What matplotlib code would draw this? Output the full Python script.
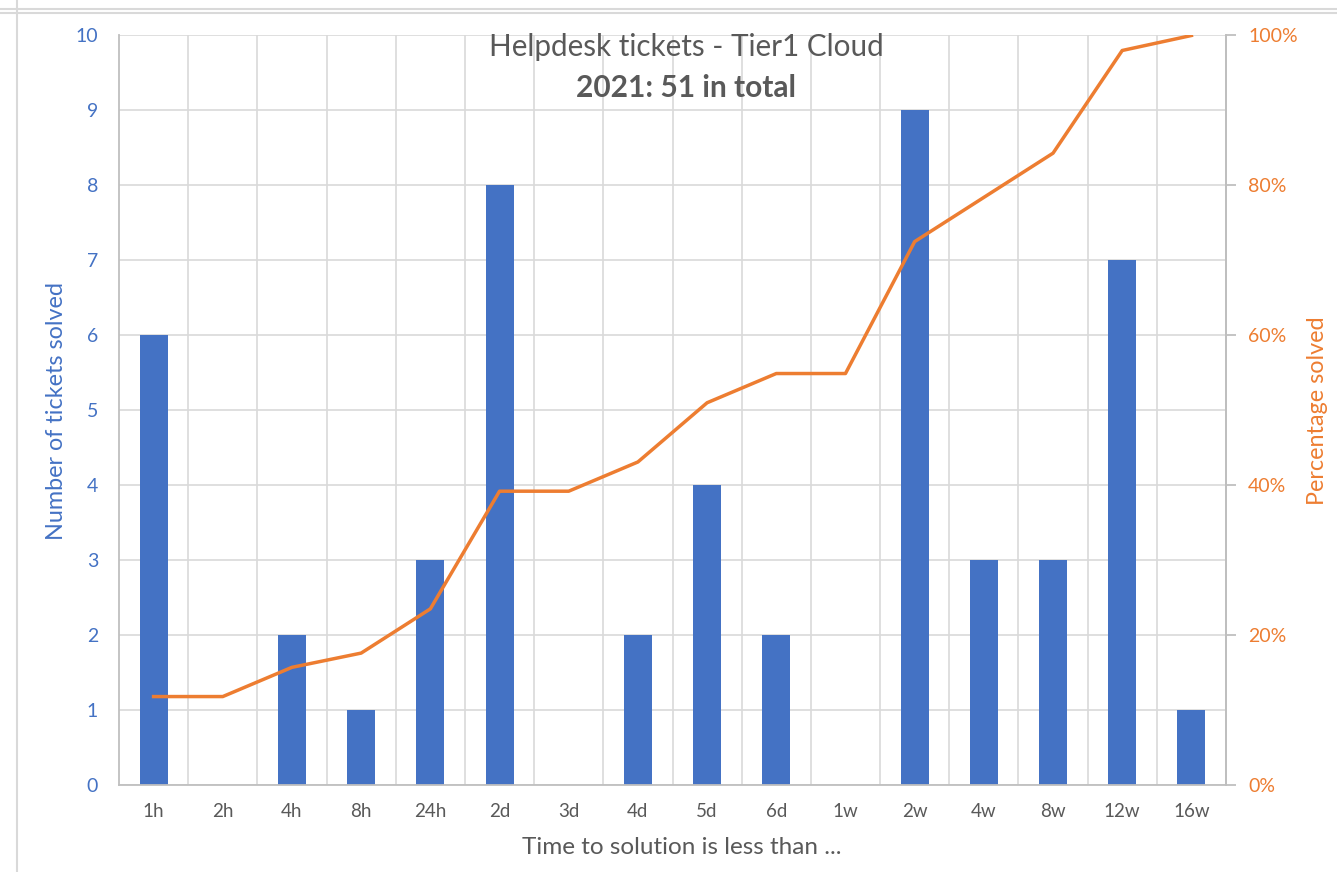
import matplotlib
matplotlib.use("Agg")
import matplotlib.pyplot as plt
from matplotlib.lines import Line2D

# Helpdesk tickets solved per time bucket, 2021
categories = ["1h", "2h", "4h", "8h", "24h", "2d", "3d", "4d", "5d", "6d",
              "1w", "2w", "4w", "8w", "12w", "16w"]
tickets = [6, 0, 2, 1, 3, 8, 0, 2, 4, 2, 0, 9, 3, 3, 7, 1]
pct_solved = [11.8, 11.8, 15.7, 17.6, 23.5, 39.2, 39.2, 43.1, 51.0, 54.9,
              54.9, 72.5, 78.4, 84.3, 98.0, 100.0]
left_ticks = list(range(0, 11))
right_ticks = [0, 20, 40, 60, 80, 100]

BLUE = "#4472C4"
ORANGE = "#ED7D31"
TEXT = "#595959"
GRID = "#D9D9D9"
AXIS = "#BFBFBF"
FONT = ["Lato", "DejaVu Sans"]

W, H = 1337, 872
plt.rcParams["font.family"] = FONT
fig = plt.figure(figsize=(W / 100, H / 100), dpi=100)

def fx(px):
    return px / W

def fy(py):
    return 1 - py / H

# outer frame lines
fig.add_artist(Line2D([0, 1], [fy(9.5), fy(9.5)], color=GRID, lw=1.5))
fig.add_artist(Line2D([0, 1], [fy(13.5), fy(13.5)], color=GRID, lw=1.5))
fig.add_artist(Line2D([fx(16.5), fx(16.5)], [0, 1], color=GRID, lw=1.5))

left, right, top, bottom = 119, 1226, 35.5, 785
ax = fig.add_axes([fx(left), fy(bottom), fx(right - left), (bottom - top) / H])
x = list(range(len(categories)))
ax.bar(x, tickets, width=0.405, color=BLUE, zorder=2)
ax.set_xlim(-0.5, len(categories) - 0.5)
ax.set_ylim(0, 10)
ax.set_yticks(left_ticks)
ax.set_xticks(x)
ax.set_xticklabels(categories)
ax.tick_params(axis="y", length=0, pad=15, labelsize=14, labelcolor=BLUE)
ax.tick_params(axis="x", length=0, pad=13, labelsize=13.5, labelcolor=TEXT)
ax.set_axisbelow(True)
ax.grid(axis="y", color=GRID, lw=1.2)
for b in range(len(categories) - 1):
    ax.axvline(b + 0.5, color=GRID, lw=1.2, zorder=0)
ax.spines["top"].set_visible(False)
for side in ("left", "right", "bottom"):
    ax.spines[side].set_color(AXIS)
    ax.spines[side].set_linewidth(1.3)

ax2 = ax.twinx()
ax2.plot(x, pct_solved, color=ORANGE, lw=2.5, solid_joinstyle="round", zorder=3)
ax2.set_ylim(0, 100)
ax2.set_yticks(right_ticks)
ax2.set_yticklabels([f"{v}%" for v in right_ticks])
ax2.tick_params(axis="y", length=7, width=1.3, color=AXIS, pad=9,
                labelsize=14, labelcolor=ORANGE)
for side in ("top", "left", "bottom"):
    ax2.spines[side].set_visible(False)
ax2.spines["right"].set_color(AXIS)
ax2.spines["right"].set_linewidth(1.3)

# titles and axis labels
fig.text(fx(686), fy(47), "Helpdesk tickets - Tier1 Cloud", ha="center", va="center",
         fontsize=21.3, color=TEXT)
fig.text(fx(686), fy(88), "2021: 51 in total", ha="center", va="center",
         fontsize=21.5, fontweight="bold", color=TEXT)
fig.text(fx(57), fy(411), "Number of tickets solved", ha="center", va="center",
         rotation=90, fontsize=16.8, color=BLUE)
fig.text(fx(1318), fy(411), "Percentage solved", ha="center", va="center",
         rotation=90, fontsize=16.8, color=ORANGE)
fig.text(fx(682), fy(847), "Time to solution is less than ...", ha="center", va="center",
         fontsize=17.5, color=TEXT)

fig.savefig("out.png", dpi=100)
